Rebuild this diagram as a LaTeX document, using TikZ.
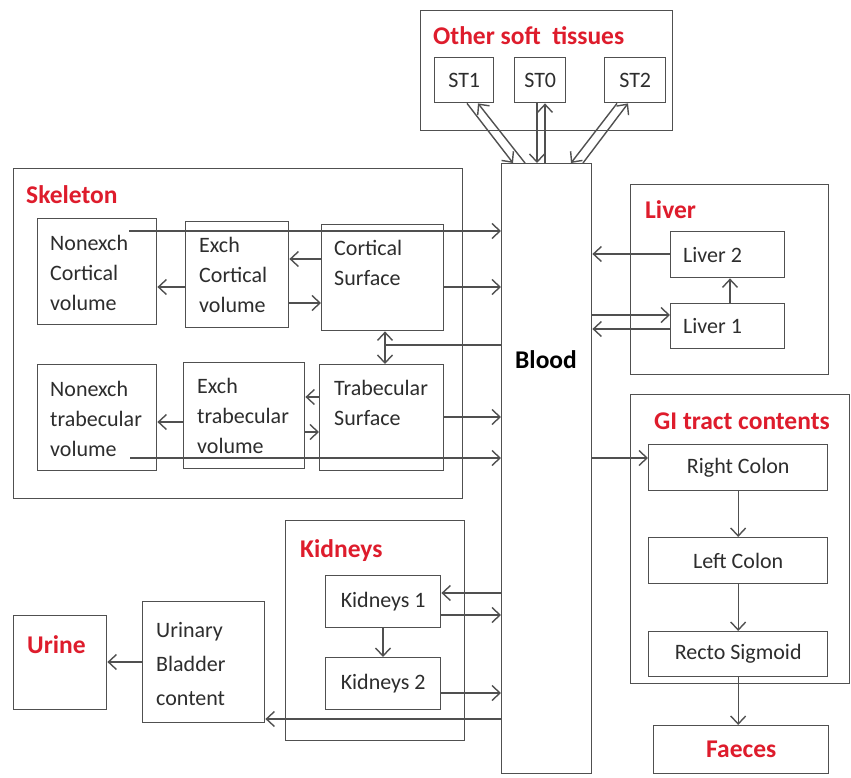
\documentclass[tikz,border=0pt]{standalone}
\usepackage{fontspec}
\setmainfont{Carlito}
\usetikzlibrary{arrows.meta}
\definecolor{tred}{RGB}{222,28,44}
\definecolor{lc}{RGB}{80,80,80}
\definecolor{tc}{RGB}{45,45,45}
\newcommand\bx[5]{\node[box, minimum width={#4-#2}, minimum height={#5-#3}] (#1) at (#2,#3) {};}
\begin{document}
\begin{tikzpicture}[x=1pt,y=-1pt,
  box/.style={draw=lc, line width=1.4pt, anchor=north west, inner sep=0pt, fill=none},
  arr/.style={draw=lc, line width=1.4pt, -{Straight Barb[length=8pt,width=15pt]}},
  dbl/.style={draw=lc, line width=1.4pt, {Straight Barb[length=8pt,width=15pt]}-{Straight Barb[length=8pt,width=15pt]}},
  ln/.style={draw=lc, line width=1.4pt},
  txt/.style={anchor=base west, align=left, inner sep=0pt, font=\fontsize{22}{30}\selectfont, text=tc},
  ctxt/.style={inner sep=0pt, font=\fontsize{22}{30}\selectfont, text=tc},
  ttl/.style={anchor=west, inner sep=0pt, font=\fontsize{25.5}{30}\selectfont\bfseries, text=tred},
]
\useasboundingbox[fill=white] (0,0) rectangle (851,778);

% boxes
\bx{ost}{420}{10}{672}{130}
\bx{st1}{434}{57}{493}{102}
\bx{st0}{514}{57}{565}{102}
\bx{st2}{604}{57}{665}{102}
\bx{blood}{501}{163}{591}{773}
\bx{skel}{13}{168}{462}{498}
\bx{nxc}{37}{218}{156}{324}
\bx{exc}{185}{221}{288}{327}
\bx{cs}{321}{224}{443}{330}
\bx{nxt}{37}{364}{156}{470}
\bx{ext}{183}{362}{304}{468}
\bx{ts}{319}{364}{443}{470}
\bx{liver}{630}{184}{828}{374}
\bx{l2}{670}{231}{784}{277}
\bx{l1}{670}{303}{784}{348}
\bx{gi}{630}{394}{849}{683}
\bx{rc}{648}{444}{827}{490}
\bx{lcol}{648}{537}{827}{583}
\bx{rs}{648}{631}{827}{676}
\bx{fae}{653}{725}{828}{773}
\bx{kid}{285}{520}{464}{740}
\bx{k1}{325}{575}{440}{627}
\bx{k2}{325}{657}{440}{709}
\bx{ubc}{142}{601}{264}{722}
\bx{urine}{13}{615}{106}{709}

% titles
\node[ttl] (tost) at (433,36) {Other soft\ \ tissues};
\node[ttl] (tskel) at (26,195) {Skeleton};
\node[ttl] (tliv) at (645,210) {Liver};
\node[ttl] (tgi) at (654,421) {GI tract contents};
\node[ttl] (tkid) at (300,551) {Kidneys};
\node[ttl] (tur) at (27,645) {Urine};
\node[ttl, anchor=center] (tfae) at (fae.center) {Faeces};
\node[inner sep=0pt, font=\fontsize{25.5}{30}\selectfont\bfseries, text=black] (tblood) at (546,360) {Blood};

% texts (base anchor = baseline of last line)
\node[ctxt] (tst1) at (st1.center) {ST1};
\node[ctxt] (tst0) at (st0.center) {ST0};
\node[ctxt] (tst2) at (st2.center) {ST2};
\node[txt] (tnxc) at (50,310) {Nonexch\\Cortical\\volume};
\node[txt] (texc) at (199,312) {Exch\\Cortical\\volume};
\node[txt] (tcs) at (334,285) {Cortical\\Surface};
\node[txt] (tnxt) at (50,456) {Nonexch\\trabecular\\volume};
\node[txt] (text) at (197,453) {Exch\\trabecular\\volume};
\node[txt] (tts) at (334,425) {Trabecular\\Surface};
\node[ctxt, anchor=west] (tl2) at (l2.center -| 683,0) {Liver 2};
\node[ctxt, anchor=west] (tl1) at (l1.center -| 683,0) {Liver 1};
\node[ctxt] (trc) at (rc.center) {Right Colon};
\node[ctxt] (tlc) at (lcol.center) {Left Colon};
\node[ctxt] (trs) at (rs.center) {Recto Sigmoid};
\node[ctxt] (tk1) at (k1.center) {Kidneys 1};
\node[ctxt] (tk2) at (k2.center) {Kidneys 2};
\node[txt, font=\fontsize{22}{34}\selectfont] (tubc) at (156,705) {Urinary\\Bladder\\content};

% soft tissue exchanges
\draw[arr] (st1.south -| 467,0) -- (blood.north -| 513,0);
\draw[arr] (blood.north -| 525,0) -- (st1.south -| 478,0);
\draw[arr] (st0.south -| 537,0) -- (blood.north -| 537,0);
\draw[arr] (blood.north -| 545,0) -- (st0.south -| 545,0);
\draw[arr] (st2.south -| 617,0) -- (blood.north -| 571,0);
\draw[arr] (blood.north -| 583,0) -- (st2.south -| 628,0);

% skeleton
\coordinate (c1) at (129,231);
\draw[arr] (c1) -- (blood.west |- c1);
\draw[arr] (exc.west |- 0,287) -- (nxc.east |- 0,287);
\draw[arr] (cs.west |- 0,259) -- (exc.east |- 0,259);
\draw[arr] (exc.east |- 0,303) -- (cs.west |- 0,303);
\draw[arr] (cs.east |- 0,287) -- (blood.west |- 0,287);
\coordinate (j) at (385,345);
\draw[ln] (blood.west |- j) -- (j);
\draw[dbl] (cs.south -| j) -- (ts.north -| j);
\draw[arr] (ts.west |- 0,397) -- (ext.east |- 0,397);
\draw[arr] (ext.east |- 0,432) -- (ts.west |- 0,432);
\draw[arr] (ext.west |- 0,422) -- (nxt.east |- 0,422);
\draw[arr] (ts.east |- 0,417) -- (blood.west |- 0,417);
\coordinate (c2) at (130,458);
\draw[arr] (c2) -- (blood.west |- c2);

% liver
\draw[arr] (l2.west |- 0,254) -- (blood.east |- 0,254);
\draw[arr] (l1.north -| 730,0) -- (l2.south -| 730,0);
\draw[arr] (blood.east |- 0,315) -- (l1.west |- 0,315);
\draw[arr] (l1.west |- 0,329) -- (blood.east |- 0,329);

% GI tract
\draw[arr] (blood.east |- 0,458) -- (rc.west |- 0,458);
\draw[arr] (rc.south) -- (lcol.north);
\draw[arr] (lcol.south) -- (rs.north);
\draw[arr] (rs.south) -- (rs.south |- fae.north);

% kidneys
\draw[arr] (blood.west |- 0,593) -- (k1.east |- 0,593);
\draw[arr] (k1.east |- 0,615) -- (blood.west |- 0,615);
\draw[arr] (k1.south -| 383,0) -- (k2.north -| 383,0);
\draw[arr] (k2.east |- 0,693) -- (blood.west |- 0,693);
\draw[arr] (blood.west |- 0,719) -- (ubc.east |- 0,719);
\draw[arr] (ubc.west |- 0,662) -- (urine.east |- 0,662);
\end{tikzpicture}
\end{document}
